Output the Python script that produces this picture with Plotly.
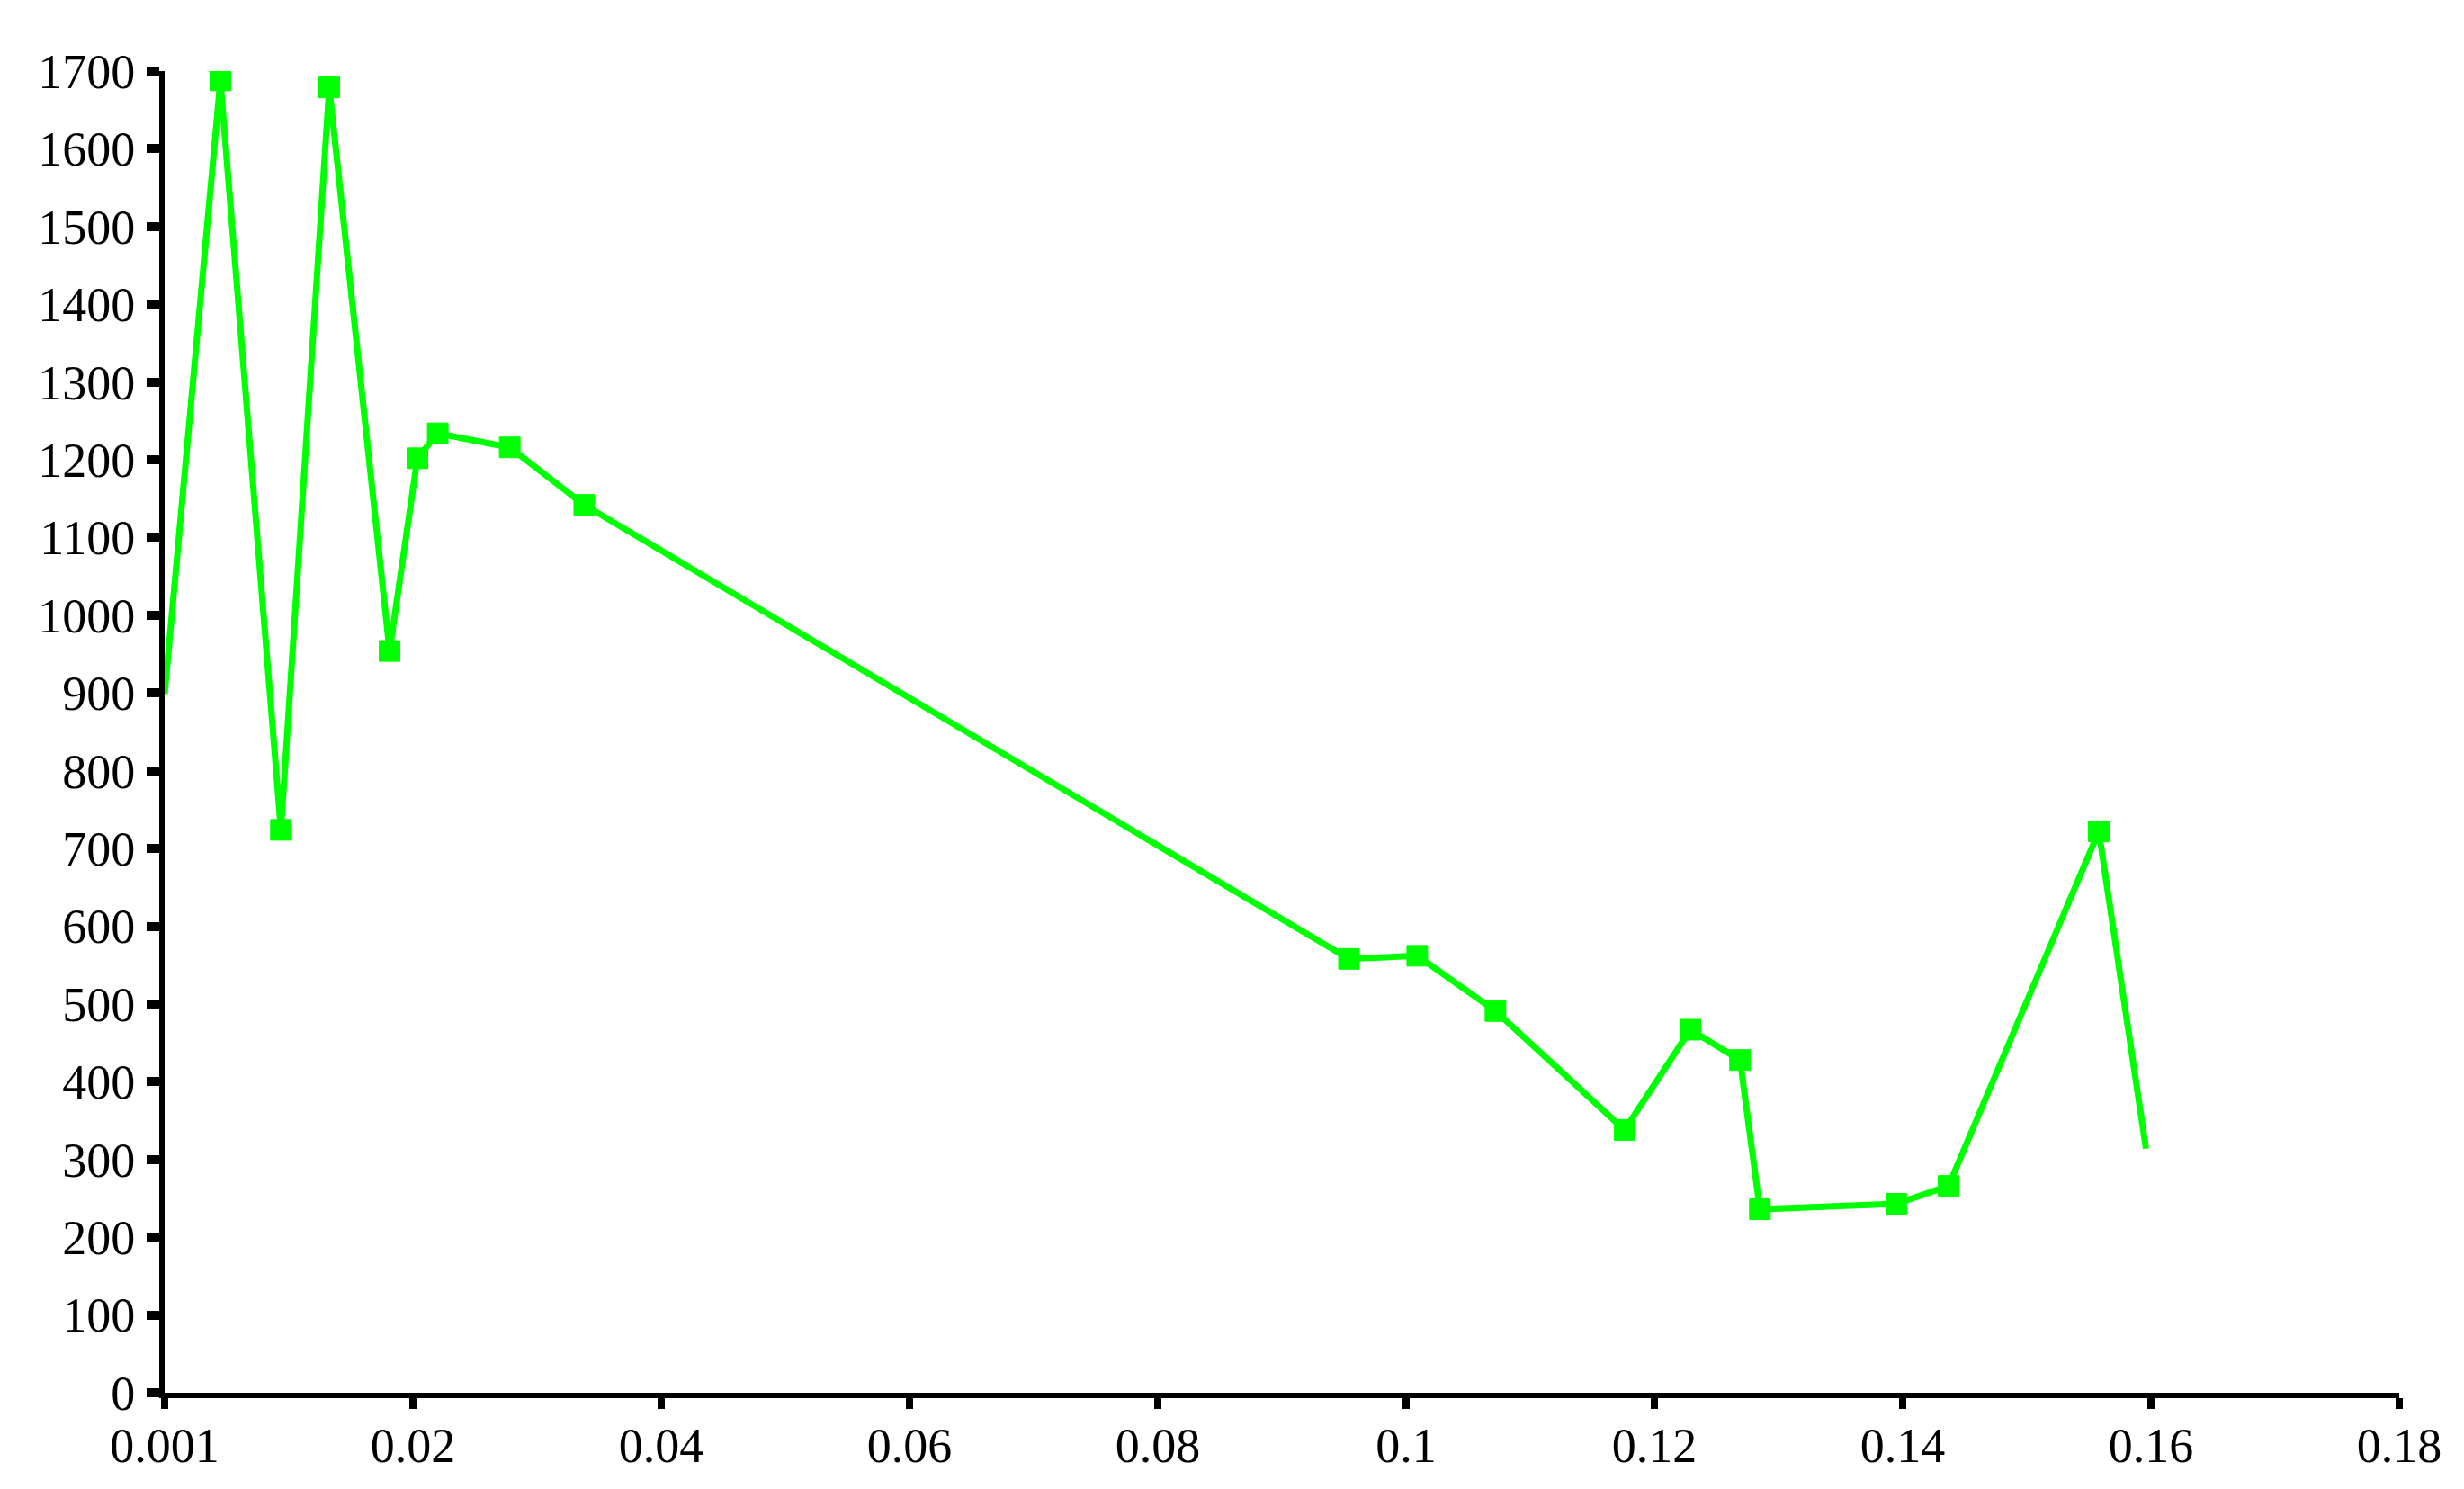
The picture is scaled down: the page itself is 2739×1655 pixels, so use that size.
import plotly.graph_objects as go

# values
x_vals = [0.0, 0.00449, 0.00937, 0.01326, 0.01812, 0.02036, 0.0220, 0.0278, 0.0338,
          0.0954, 0.1009, 0.1072, 0.1176, 0.1229, 0.1269, 0.1285, 0.1395, 0.1437,
          0.1558, 0.1596]
y_vals = [899, 1688, 724, 1679, 954, 1202, 1234, 1216, 1142,
          558, 562, 491, 338, 467, 428, 236, 243, 266,
          722, 314]

x_tickvals = [0, 0.02, 0.04, 0.06, 0.08, 0.1, 0.12, 0.14, 0.16, 0.18]
x_ticktext = ["0.001", "0.02", "0.04", "0.06", "0.08", "0.1", "0.12", "0.14", "0.16", "0.18"]
y_tickvals = list(range(0, 1800, 100))

# end points of the line carry no marker in the original
sizes = [0] + [23] * (len(x_vals) - 2) + [0]

fig = go.Figure(go.Scatter(
    x=x_vals, y=y_vals, mode="lines+markers",
    line=dict(color="#00ff00", width=7),
    marker=dict(symbol="square", size=sizes, color="#00ff00", opacity=1,
                line=dict(width=1, color="#00ff00")),
    showlegend=False,
))

font = dict(family="Liberation Serif, Times New Roman, serif", size=54, color="black")

fig.update_xaxes(range=[0, 0.18], tickvals=x_tickvals, ticktext=x_ticktext,
                 showline=True, linecolor="black", linewidth=6,
                 ticks="outside", ticklen=12, tickwidth=8, tickcolor="black",
                 ticklabelstandoff=-6,
                 showgrid=False, zeroline=False, tickfont=font)
fig.update_yaxes(range=[0, 1700], tickvals=y_tickvals,
                 showline=True, linecolor="black", linewidth=6,
                 ticks="outside", ticklen=14, tickwidth=10, tickcolor="black",
                 ticklabelstandoff=2,
                 showgrid=False, zeroline=False, tickfont=font)

# page body adds an 8px offset, so margins are shifted to compensate
fig.update_layout(width=2739, height=1655, plot_bgcolor="white", paper_bgcolor="white",
                  margin=dict(l=175, r=80, t=71, b=115))

fig.write_html("out.html")
